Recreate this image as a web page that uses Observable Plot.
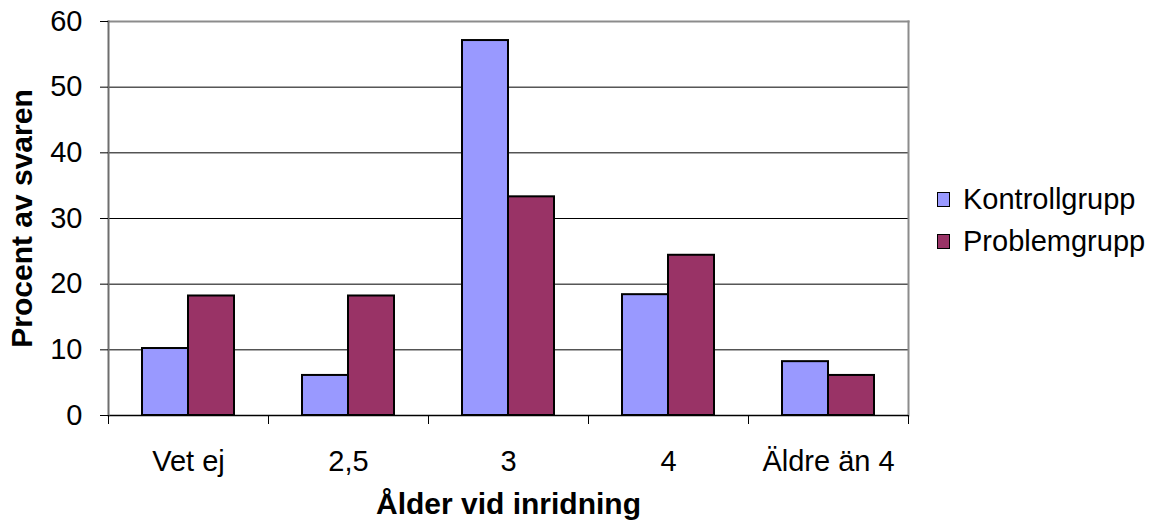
<!DOCTYPE html>
<html>
<head>
<meta charset="utf-8">
<script src="https://cdn.jsdelivr.net/npm/d3@7"></script>
<script src="https://cdn.jsdelivr.net/npm/@observablehq/plot@0.6"></script>
<style>
  html, body { margin: 0; padding: 0; background: #fff; }
  #wrap { position: relative; width: 1155px; height: 523px; overflow: hidden; }
  #legend { position: absolute; left: 937px; top: 178px; font-family: "Liberation Sans", Arial, sans-serif; font-size: 29px; color: #000; }
  .item { display: flex; align-items: center; height: 42px; }
  .sw { width: 11px; height: 13px; border: 1.5px solid #000; margin-right: 13px; }
</style>
</head>
<body>
<div id="wrap"><div id="legend"></div></div>
<script>
const categories = ["Vet ej", "2,5", "3", "4", "Äldre än 4"];
const series = ["Kontrollgrupp", "Problemgrupp"];
const kontroll = [10.2, 6.1, 57.1, 18.4, 8.2];
const problem = [18.2, 18.2, 33.3, 24.4, 6.1];
const yTicks = [0, 10, 20, 30, 40, 50, 60];
const colors = ["#9999FF", "#993366"];
const xTitle = "Ålder vid inridning";
const yTitle = "Procent av svaren";

const data = [];
categories.forEach((c, i) => {
  data.push({cat: c, series: series[0], value: kontroll[i]});
  data.push({cat: c, series: series[1], value: problem[i]});
});

const chart = Plot.plot({
  width: 1155,
  height: 523,
  marginLeft: 108,
  marginRight: 247,
  marginTop: 21,
  marginBottom: 108,
  style: {fontFamily: "'Liberation Sans', Arial, sans-serif", fontSize: "29px", color: "#000", background: "#fff", overflow: "visible"},
  x: {domain: categories, padding: 0, axis: null},
  y: {domain: [0, 60], axis: null},
  color: {domain: series, range: colors},
  marks: [
    Plot.ruleY(yTicks.filter(v => v > 0 && v < 60), {stroke: "#000", strokeWidth: 1}),
    Plot.frame({anchor: "top", stroke: "#8c8c8c", strokeWidth: 2}),
    Plot.frame({anchor: "right", stroke: "#8c8c8c", strokeWidth: 2}),
    Plot.barY(data.filter(d => d.series === series[0]), {x: "cat", y: "value", fill: "series", stroke: "#000", strokeWidth: 2, insetLeft: 34, insetRight: 80}),
    Plot.barY(data.filter(d => d.series === series[1]), {x: "cat", y: "value", fill: "series", stroke: "#000", strokeWidth: 2, insetLeft: 80, insetRight: 34}),
    Plot.ruleY([0], {stroke: "#000", strokeWidth: 1.5}),
    Plot.frame({anchor: "left", stroke: "#6e6e6e", strokeWidth: 2}),
    Plot.axisY({ticks: yTicks, tickSize: 8, tickPadding: 18, label: null, fontSize: 29}),
    Plot.axisX({tickSize: 0, tickPadding: 35, label: null, fontSize: 29}),
    Plot.axisX({tickSize: 9, tickFormat: () => "", label: null, dx: -80}),
    Plot.axisX({ticks: [categories[categories.length - 1]], tickSize: 9, tickFormat: () => "", label: null, dx: 80}),
    Plot.text([xTitle], {frameAnchor: "bottom", lineAnchor: "middle", textAnchor: "middle", dy: 89, text: d => d, fontWeight: "bold", fontSize: 30}),
    Plot.text([yTitle], {frameAnchor: "left", lineAnchor: "middle", textAnchor: "middle", dx: -86, rotate: -90, text: d => d, fontWeight: "bold", fontSize: 30})
  ]
});
document.getElementById("wrap").prepend(chart);

const legend = document.getElementById("legend");
series.forEach((s, i) => {
  const item = document.createElement("div");
  item.className = "item";
  const sw = document.createElement("div");
  sw.className = "sw";
  sw.style.background = colors[i];
  const t = document.createElement("span");
  t.textContent = s;
  item.appendChild(sw);
  item.appendChild(t);
  legend.appendChild(item);
});
</script>
</body>
</html>
